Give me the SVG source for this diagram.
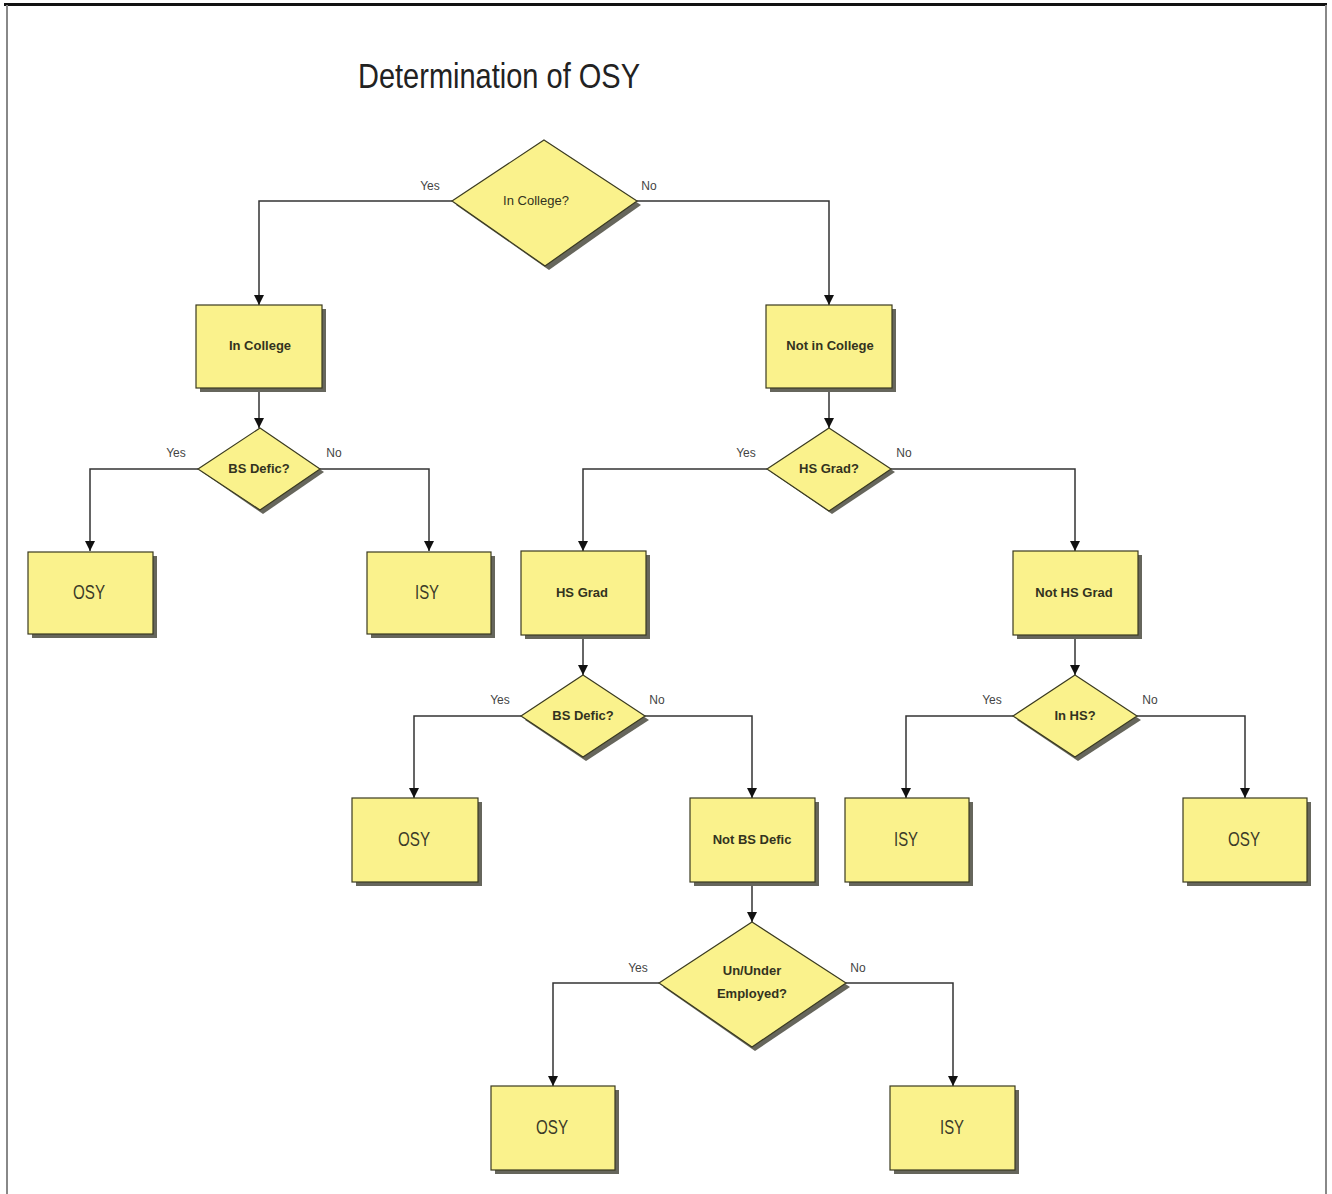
<svg xmlns="http://www.w3.org/2000/svg" width="1332" height="1194" viewBox="0 0 1332 1194">
<defs>
<style>
.box{fill:#FAF28C;stroke:#3a3a20;stroke-width:1.2}
.sh{fill:#66665c}
.t{font-family:"Liberation Sans",Arial,sans-serif;font-size:13px;font-weight:bold;fill:#333320;text-anchor:middle}
.tq{font-family:"Liberation Sans",Arial,sans-serif;font-size:13px;fill:#333320;text-anchor:middle}
.big{font-family:"Liberation Sans",Arial,sans-serif;font-size:21px;fill:#3a3a28;text-anchor:middle}
.lbl{font-family:"Liberation Sans",Arial,sans-serif;font-size:12px;fill:#444;text-anchor:middle}
.c{fill:none;stroke:#333;stroke-width:1.5}
</style>
<marker id="arr" viewBox="0 0 10 10" refX="10" refY="5" markerWidth="10" markerHeight="10" markerUnits="userSpaceOnUse" orient="auto">
<path d="M0,0 L10,5 L0,10 z" fill="#111"/>
</marker>
</defs>
<rect width="1332" height="1194" fill="#fff"/>
<g id="frame">
<line x1="4" y1="4.5" x2="1327" y2="4.5" stroke="#111" stroke-width="3"/>
<line x1="7" y1="5" x2="7" y2="1194" stroke="#888" stroke-width="2"/>
<line x1="1326" y1="5" x2="1326" y2="1194" stroke="#888" stroke-width="2"/>
</g>
<text id="title" x="358" y="88" font-family="Liberation Sans,Arial,sans-serif" font-size="35" fill="#222" textLength="282" lengthAdjust="spacingAndGlyphs">Determination of OSY</text>

<g id="connectors">
<polyline class="c" points="452,201 259,201 259,305" marker-end="url(#arr)"/>
<polyline class="c" points="637,201 829,201 829,305" marker-end="url(#arr)"/>
<polyline class="c" points="259,388 259,428" marker-end="url(#arr)"/>
<polyline class="c" points="829,388 829,428" marker-end="url(#arr)"/>
<polyline class="c" points="198,469 90,469 90,551" marker-end="url(#arr)"/>
<polyline class="c" points="320,469 429,469 429,551" marker-end="url(#arr)"/>
<polyline class="c" points="767,469 583,469 583,551" marker-end="url(#arr)"/>
<polyline class="c" points="891,469 1075,469 1075,551" marker-end="url(#arr)"/>
<polyline class="c" points="583,635 583,675" marker-end="url(#arr)"/>
<polyline class="c" points="1075,635 1075,675" marker-end="url(#arr)"/>
<polyline class="c" points="521,716 414,716 414,798" marker-end="url(#arr)"/>
<polyline class="c" points="645,716 752,716 752,798" marker-end="url(#arr)"/>
<polyline class="c" points="1013,716 906,716 906,798" marker-end="url(#arr)"/>
<polyline class="c" points="1137,716 1245,716 1245,798" marker-end="url(#arr)"/>
<polyline class="c" points="752,882 752,922" marker-end="url(#arr)"/>
<polyline class="c" points="659,983 553,983 553,1086" marker-end="url(#arr)"/>
<polyline class="c" points="846,983 953,983 953,1086" marker-end="url(#arr)"/>
<text class="lbl" x="430" y="190">Yes</text>
<text class="lbl" x="649" y="190">No</text>
<text class="lbl" x="176" y="457">Yes</text>
<text class="lbl" x="334" y="457">No</text>
<text class="lbl" x="746" y="457">Yes</text>
<text class="lbl" x="904" y="457">No</text>
<text class="lbl" x="500" y="704">Yes</text>
<text class="lbl" x="657" y="704">No</text>
<text class="lbl" x="992" y="704">Yes</text>
<text class="lbl" x="1150" y="704">No</text>
<text class="lbl" x="638" y="972">Yes</text>
<text class="lbl" x="858" y="972">No</text>
</g>

<g id="d_incollege">
<polygon class="sh" points="547,143 641,205 549,270 456,205"/>
<polygon class="box" points="544,140 637,201 545,266 452,201"/>
<text class="tq" x="536" y="205">In College?</text>
</g>
<g id="n_incollege">
<rect class="sh" x="200" y="309" width="126" height="83"/>
<rect class="box" x="196" y="305" width="126" height="83"/>
<text class="t" x="260" y="350">In College</text>
</g>
<g id="n_notincollege">
<rect class="sh" x="770" y="309" width="126" height="83"/>
<rect class="box" x="766" y="305" width="126" height="83"/>
<text class="t" x="830" y="350">Not in College</text>
</g>
<g id="d_bsdefic1">
<polygon class="sh" points="263,431 324,472 263,514 202,472"/>
<polygon class="box" points="260,428 320,469 260,510 198,469"/>
<text class="t" x="259" y="473">BS Defic?</text>
</g>
<g id="n_osy1">
<rect class="sh" x="32" y="556" width="125" height="82"/>
<rect class="box" x="28" y="552" width="125" height="82"/>
<text class="big" x="89" y="599" textLength="32" lengthAdjust="spacingAndGlyphs">OSY</text>
</g>
<g id="n_isy1">
<rect class="sh" x="371" y="556" width="124" height="82"/>
<rect class="box" x="367" y="552" width="124" height="82"/>
<text class="big" x="427" y="599" textLength="24" lengthAdjust="spacingAndGlyphs">ISY</text>
</g>
<g id="d_hsgrad">
<polygon class="sh" points="832,431 895,472 832,514 771,472"/>
<polygon class="box" points="829,428 891,469 829,511 767,469"/>
<text class="t" x="829" y="473">HS Grad?</text>
</g>
<g id="n_hsgrad">
<rect class="sh" x="525" y="555" width="125" height="84"/>
<rect class="box" x="521" y="551" width="125" height="84"/>
<text class="t" x="582" y="597">HS Grad</text>
</g>
<g id="n_nothsgrad">
<rect class="sh" x="1017" y="555" width="125" height="84"/>
<rect class="box" x="1013" y="551" width="125" height="84"/>
<text class="t" x="1074" y="597">Not HS Grad</text>
</g>
<g id="d_bsdefic2">
<polygon class="sh" points="586,679 649,720 586,761 525,720"/>
<polygon class="box" points="583,675 645,716 583,757 521,716"/>
<text class="t" x="583" y="720">BS Defic?</text>
</g>
<g id="d_inhs">
<polygon class="sh" points="1078,679 1141,720 1078,761 1017,720"/>
<polygon class="box" points="1075,675 1137,716 1075,757 1013,716"/>
<text class="t" x="1075" y="720">In HS?</text>
</g>
<g id="n_osy2">
<rect class="sh" x="356" y="802" width="126" height="84"/>
<rect class="box" x="352" y="798" width="126" height="84"/>
<text class="big" x="414" y="846" textLength="32" lengthAdjust="spacingAndGlyphs">OSY</text>
</g>
<g id="n_notbsdefic">
<rect class="sh" x="694" y="802" width="125" height="84"/>
<rect class="box" x="690" y="798" width="125" height="84"/>
<text class="t" x="752" y="844">Not BS Defic</text>
</g>
<g id="n_isy2">
<rect class="sh" x="849" y="802" width="124" height="84"/>
<rect class="box" x="845" y="798" width="124" height="84"/>
<text class="big" x="906" y="846" textLength="24" lengthAdjust="spacingAndGlyphs">ISY</text>
</g>
<g id="n_osy3">
<rect class="sh" x="1187" y="802" width="124" height="84"/>
<rect class="box" x="1183" y="798" width="124" height="84"/>
<text class="big" x="1244" y="846" textLength="32" lengthAdjust="spacingAndGlyphs">OSY</text>
</g>
<g id="d_employed">
<polygon class="sh" points="755,925 850,987 755,1051 663,987"/>
<polygon class="box" points="752,922 846,983 752,1047 659,983"/>
<text class="t" x="752" y="975">Un/Under</text>
<text class="t" x="752" y="998">Employed?</text>
</g>
<g id="n_osy4">
<rect class="sh" x="495" y="1090" width="124" height="84"/>
<rect class="box" x="491" y="1086" width="124" height="84"/>
<text class="big" x="552" y="1134" textLength="32" lengthAdjust="spacingAndGlyphs">OSY</text>
</g>
<g id="n_isy3">
<rect class="sh" x="894" y="1090" width="125" height="84"/>
<rect class="box" x="890" y="1086" width="125" height="84"/>
<text class="big" x="952" y="1134" textLength="24" lengthAdjust="spacingAndGlyphs">ISY</text>
</g>
</svg>
